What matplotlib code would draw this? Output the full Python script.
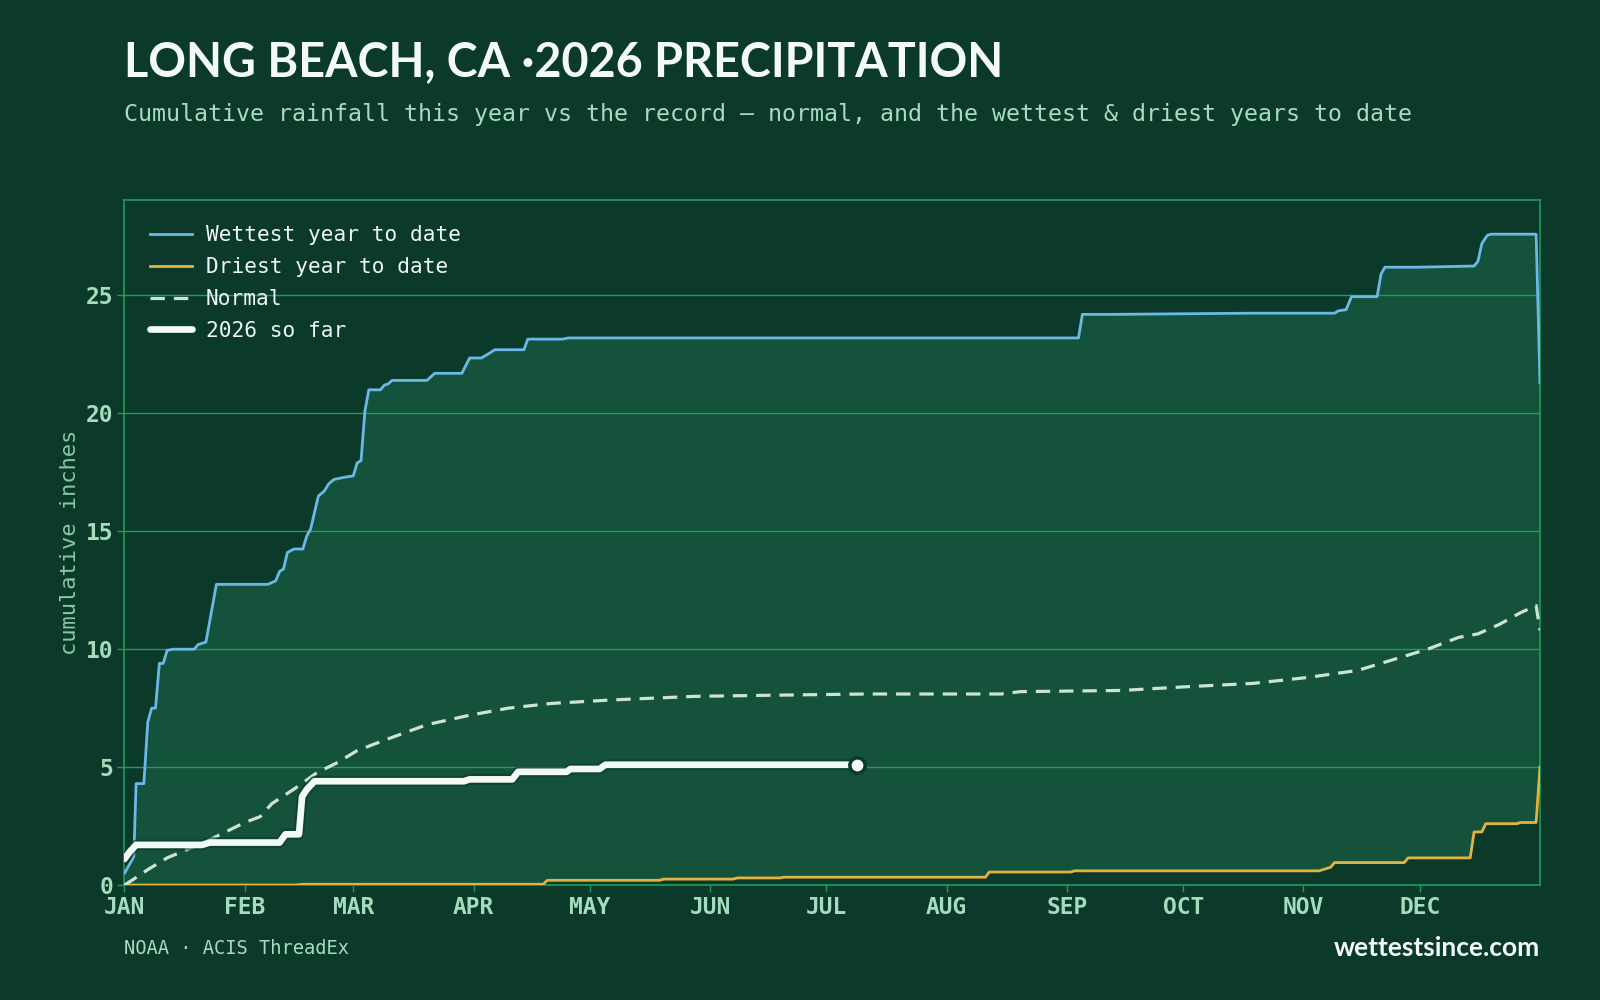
import matplotlib
matplotlib.use("Agg")
import matplotlib.pyplot as plt
import matplotlib.patheffects as pe

# Data (day of year, cumulative inches)
wet_day = [0, 2.4, 3, 5, 6, 7, 8, 9, 10, 11, 12.6, 18, 19, 21, 23.7, 37, 39, 40, 41, 42, 43.7, 46, 47, 48,
           50, 51.5, 52.6, 54, 57, 59, 60, 61, 62, 63, 66, 67, 68, 69, 78, 80, 87, 89, 92, 93.6, 95.5, 103,
           104, 113, 114.4, 246, 247, 254.6, 291, 312, 313, 315, 316.4, 323, 324, 325, 333.5, 348, 349, 350,
           351.4, 352.4, 364, 365]
wet_val = [0.5, 1.2, 4.3, 4.3, 6.9, 7.5, 7.5, 9.4, 9.4, 9.95, 10.0, 10.0, 10.2, 10.3, 12.75, 12.75, 12.9, 13.3,
           13.4, 14.1, 14.25, 14.25, 14.8, 15.1, 16.5, 16.7, 17.0, 17.2, 17.3, 17.35, 17.9, 18.0, 20.1, 21.0,
           21.0, 21.2, 21.25, 21.4, 21.4, 21.7, 21.7, 22.35, 22.35, 22.5, 22.7, 22.7, 23.15, 23.15, 23.2, 23.2,
           24.2, 24.2, 24.25, 24.25, 24.35, 24.4, 24.95, 24.95, 25.9, 26.2, 26.2, 26.25, 26.45, 27.2, 27.55,
           27.6, 27.6, 21.3]

dry_day = [0, 44, 46, 108, 109, 138, 139, 157, 158, 169, 170, 222, 223, 244, 245, 308, 309, 311, 312, 330,
           331, 347, 348, 350, 351, 359, 360, 364, 365]
dry_val = [0, 0, 0.03, 0.03, 0.2, 0.2, 0.25, 0.25, 0.3, 0.3, 0.33, 0.33, 0.55, 0.55, 0.6, 0.6, 0.65, 0.75,
           0.95, 0.95, 1.15, 1.15, 2.25, 2.25, 2.6, 2.6, 2.65, 2.65, 5.0]

norm_day = [0, 2.4, 6, 11, 20.5, 31, 35, 38, 44, 49.5, 55, 60, 68, 78, 89, 99, 110, 126, 147, 168, 191, 226,
            231, 257, 273, 291, 305, 318, 328, 336, 344, 349, 354.5, 360, 364, 365]
norm_val = [0, 0.25, 0.65, 1.15, 1.8, 2.65, 2.9, 3.45, 4.1, 4.75, 5.2, 5.7, 6.2, 6.8, 7.2, 7.5, 7.7, 7.85,
            8.0, 8.05, 8.1, 8.1, 8.2, 8.25, 8.4, 8.55, 8.8, 9.1, 9.6, 10.0, 10.5, 10.65, 11.05, 11.55, 11.85, 10.8]

cur_day = [0, 1.3, 3, 20, 22, 40, 41.5, 45, 45.8, 47, 49, 87.5, 89, 100, 101.5, 114, 115, 122.5, 124, 189]
cur_val = [1.1, 1.4, 1.7, 1.7, 1.8, 1.8, 2.15, 2.15, 3.75, 4.05, 4.4, 4.4, 4.48, 4.48, 4.8, 4.8, 4.92, 4.92,
           5.1, 5.1]

month_days = [0, 31, 59, 90, 120, 151, 181, 212, 243, 273, 304, 334]
month_labels = ['JAN', 'FEB', 'MAR', 'APR', 'MAY', 'JUN', 'JUL', 'AUG', 'SEP', 'OCT', 'NOV', 'DEC']

# Colours
BG = '#0b3a2a'
BAND = '#14523b'
GRID = '#1f9c60'
TICK = '#a6dcbd'
WET = '#6cb8e8'
DRY = '#e3b341'
NORM = '#cde3d5'
CUR = '#f3faf5'

fig = plt.figure(figsize=(16, 10), dpi=100, facecolor=BG)
ax = fig.add_axes([0.0778, 0.115, 0.8847, 0.685], facecolor=BG)

# band between wettest and driest
ax.fill(wet_day + dry_day[::-1], wet_val + dry_val[::-1], color=BAND, lw=0, zorder=1)

ax.plot(wet_day, wet_val, color=WET, lw=2, label='Wettest year to date', zorder=3)
ax.plot(dry_day, dry_val, color=DRY, lw=2, label='Driest year to date', zorder=3)
ax.plot(norm_day, norm_val, color=NORM, lw=2.3, dashes=(4.5, 2.8), label='Normal', zorder=3)
ax.plot(cur_day, cur_val, color=CUR, lw=4.8, label='2026 so far', zorder=4, solid_capstyle='round',
        path_effects=[pe.Stroke(linewidth=7.8, foreground=BG, alpha=0.6), pe.Normal()])
ax.plot(cur_day[-1], cur_val[-1], 'o', ms=11, mfc=CUR, mec=BG, mew=2.5, zorder=5)

ax.set_xlim(0, 365)
ax.set_ylim(0, 29.05)
ax.set_xticks(month_days)
ax.set_xticklabels(month_labels)
ax.set_yticks([0, 5, 10, 15, 20, 25])
ax.grid(axis='y', color=GRID, lw=1)
for line in ax.get_ygridlines():
    line.set_zorder(2)

for s in ax.spines.values():
    s.set_color(GRID)
    s.set_linewidth(1.2)
ax.tick_params(axis='both', colors=GRID, labelcolor=TICK, length=5, width=1, pad=3)
for lab in ax.get_xticklabels() + ax.get_yticklabels():
    lab.set_fontfamily('DejaVu Sans Mono')
    lab.set_fontweight('bold')
    lab.set_fontsize(16.5)

ax.set_ylabel('cumulative inches', family='DejaVu Sans Mono', fontsize=15.8, color='#86c9a3', labelpad=4)

leg = ax.legend(loc='upper left', frameon=False, handlelength=2.0, handletextpad=0.65,
                labelspacing=0.56, borderaxespad=0.8, prop={'family': 'DejaVu Sans Mono', 'size': 15.2})
for t in leg.get_texts():
    t.set_color('#eef7f1')

fig.text(0.0778, 0.938, 'LONG BEACH, CA \u00b72026 PRECIPITATION', family='Lato', weight='bold',
         fontsize=33.7, color='#f3faf5', va='center', ha='left')
fig.text(0.0778, 0.886,
         'Cumulative rainfall this year vs the record \u2014 normal, and the wettest & driest years to date',
         family='DejaVu Sans Mono', fontsize=16.75, color='#a6dcbd', va='center', ha='left')
fig.text(0.0778, 0.052, 'NOAA \u00b7 ACIS ThreadEx', family='DejaVu Sans Mono', fontsize=13.5,
         color='#a6dcbd', va='center', ha='left')
fig.text(0.9625, 0.052, 'wettestsince.com', family='Lato', weight='bold', fontsize=19,
         color='#f3faf5', va='center', ha='right')

fig.savefig('out.png', dpi=100, facecolor=BG)
